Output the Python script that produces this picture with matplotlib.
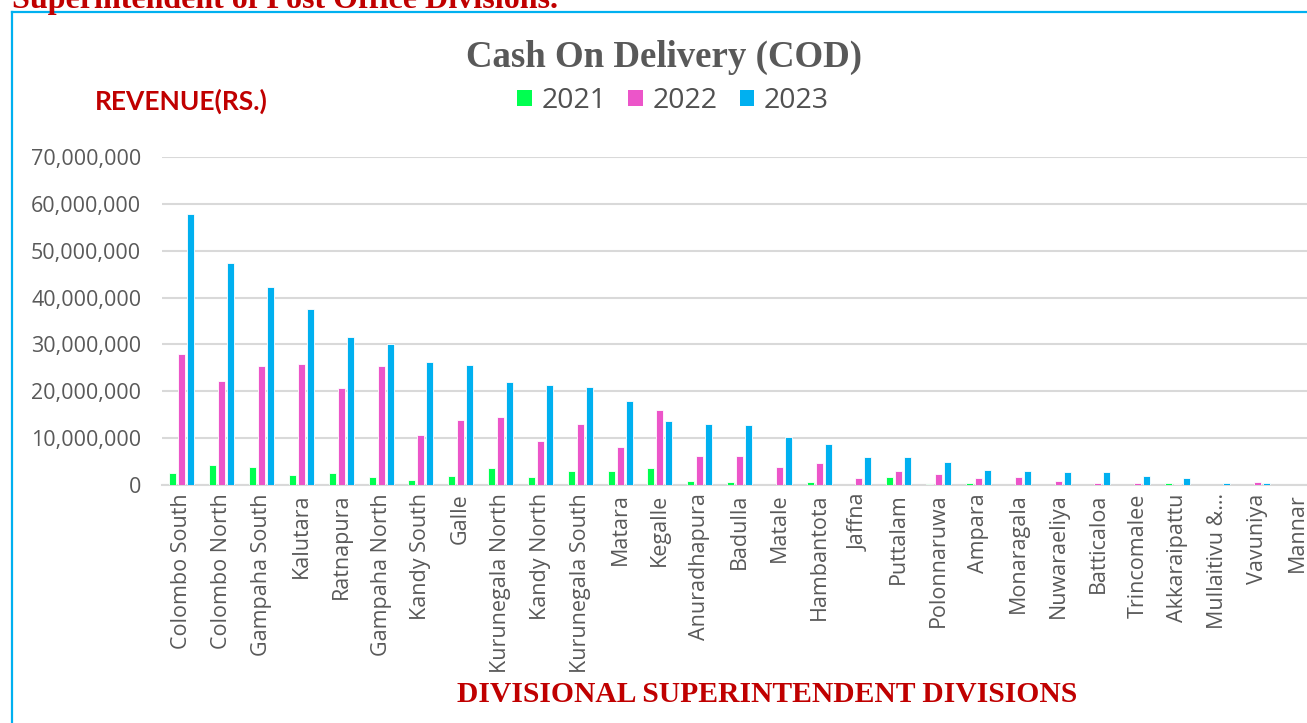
import matplotlib
matplotlib.use("Agg")
import matplotlib.pyplot as plt
from matplotlib.lines import Line2D
from matplotlib.patches import Patch
import numpy as np

divisions = ["Colombo South", "Colombo North", "Gampaha South", "Kalutara", "Ratnapura",
             "Gampaha North", "Kandy South", "Galle", "Kurunegala North", "Kandy North",
             "Kurunegala South", "Matara", "Kegalle", "Anuradhapura", "Badulla", "Matale",
             "Hambantota", "Jaffna", "Puttalam", "Polonnaruwa", "Ampara", "Monaragala",
             "Nuwaraeliya", "Batticaloa", "Trincomalee", "Akkaraipattu", "Mullaitivu &…",
             "Vavuniya", "Mannar"]

cod_2021 = [2640000, 4360000, 3790000, 2210000, 2500000, 1640000, 1070000, 1930000, 3710000,
            1790000, 2930000, 3070000, 3640000, 930000, 570000, 0, 640000, 0, 1640000,
            120000, 430000, 100000, 0, 0, 0, 350000, 0, 0, 0]
cod_2022 = [27860000, 22300000, 25300000, 25800000, 20800000, 25300000, 10700000, 13900000,
            14500000, 9290000, 13000000, 8070000, 16100000, 6290000, 6200000, 3860000,
            4710000, 1430000, 3000000, 2430000, 1570000, 1790000, 860000, 430000, 430000,
            200000, 0, 570000, 0]
cod_2023 = [57900000, 47300000, 42200000, 37600000, 31500000, 30100000, 26200000, 25700000,
            22000000, 21300000, 20900000, 17900000, 13600000, 13070000, 12900000, 10200000,
            8790000, 6000000, 5900000, 4930000, 3140000, 3000000, 2860000, 2710000, 1930000,
            1430000, 500000, 430000, 0]

years = ["2021", "2022", "2023"]
colors = ["#00FF50", "#EC55C9", "#00B0F0"]

W, H = 1307, 723
fig = plt.figure(figsize=(W / 100, H / 100), dpi=100)

# axes box in pixels: left 162, right 1317 (runs just past the edge), top 157, bottom 485
ax = fig.add_axes([162 / W, 1 - 485 / H, (1317 - 162) / W, (485 - 157) / H])

x = np.arange(len(divisions))
bw = 0.176
step = 0.226
for i, (vals, c, lab) in enumerate(zip([cod_2021, cod_2022, cod_2023], colors, years)):
    ax.bar(x + (i - 1) * step, vals, width=bw, color=c, edgecolor="#FFFFFF",
           linewidth=0.6, label=lab, zorder=3)

ax.set_xlim(-0.5, len(divisions) - 0.5)
ax.set_ylim(0, 70000000)
ax.set_yticks(np.arange(0, 70000001, 10000000))
ax.yaxis.set_major_formatter(matplotlib.ticker.FuncFormatter(lambda v, p: f"{int(v):,}"))
ax.grid(axis="y", color="#D9D9D9", linewidth=1.5, zorder=0)
for s in ["top", "right", "left"]:
    ax.spines[s].set_visible(False)
ax.spines["bottom"].set_color("#D9D9D9")
ax.spines["bottom"].set_linewidth(1.5)

ax.set_xticks(x)
ax.set_xticklabels(divisions, rotation=90, fontsize=15.5, family="Open Sans", color="#595959")
for t in ax.get_yticklabels():
    t.set_fontfamily("Open Sans")
    t.set_fontsize(15.5)
    t.set_color("#595959")
ax.tick_params(axis="y", length=0, pad=15)
ax.tick_params(axis="x", length=0, pad=6)

fig.text(664 / W, 1 - 57 / H, "Cash On Delivery (COD)", ha="center", va="center",
         fontsize=26.6, fontweight="bold", family="Liberation Serif", color="#595959")
fig.text(95 / W, 1 - 101 / H, "REVENUE(RS.)", ha="left", va="center",
         fontsize=19, fontweight="bold", family="Lato", color="#C00000")
fig.text(767 / W, 1 - 694 / H, "DIVISIONAL SUPERINTENDENT DIVISIONS", ha="center", va="center",
         fontsize=21.3, fontweight="bold", family="Liberation Serif", color="#C00000")
fig.text(12 / W, 1 - 8 / H, "Superintendent of Post Office Divisions.", ha="left", va="baseline",
         fontsize=23, fontweight="bold", family="Liberation Serif", color="#C00000")

handles = [Patch(facecolor=c, edgecolor="none") for c in colors]
leg = fig.legend(handles, years, loc="center", bbox_to_anchor=(673 / W, 1 - 101 / H), ncol=3,
                 frameon=False, handlelength=0.5, handleheight=0.5, handletextpad=0.35,
                 columnspacing=0.77, prop={"family": "Open Sans", "size": 20.5})
for t in leg.get_texts():
    t.set_color("#505050")

# blue frame around the chart
fig.add_artist(Line2D([12 / W, 12 / W], [0, 1 - 12 / H], transform=fig.transFigure,
                      color="#00B0F0", linewidth=1.6))
fig.add_artist(Line2D([12 / W, 1], [1 - 12 / H, 1 - 12 / H], transform=fig.transFigure,
                      color="#00B0F0", linewidth=1.6))

fig.savefig("out.png", dpi=100)
